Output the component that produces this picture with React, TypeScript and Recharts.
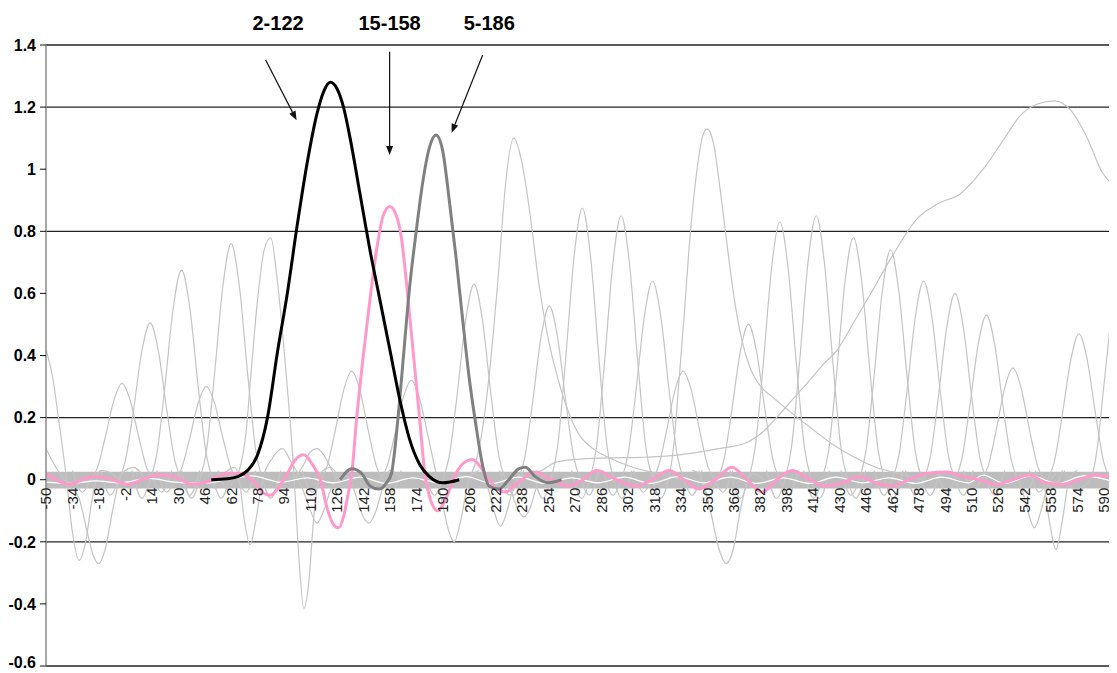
import React from "react";
import { LineChart, Line, XAxis, YAxis, ReferenceLine, ReferenceArea, ReferenceDot } from "recharts";

type P = [number, number][];

const xTicks = [
  -50, -34, -18, -2, 14, 30, 46, 62, 78, 94, 110, 126, 142, 158, 174, 190, 206, 222, 238, 254, 270,
  286, 302, 318, 334, 350, 366, 382, 398, 414, 430, 446, 462, 478, 494, 510, 526, 542, 558, 574, 590,
];
const yTicks = [-0.6, -0.4, -0.2, 0, 0.2, 0.4, 0.6, 0.8, 1, 1.2, 1.4];
const gridValues = [1.4, 1.2, 0.8, 0.2, -0.2, -0.6];

// highlighted series
const black122: P = [
  [50, 0], [60, 0.003], [66, 0.01], [72, 0.03], [78, 0.08], [84, 0.2], [90, 0.41], [96, 0.6], [102, 0.82],
  [108, 1.02], [114, 1.18], [118, 1.25], [122, 1.28], [126, 1.26], [130, 1.2], [134, 1.1], [140, 0.92],
  [146, 0.74], [152, 0.58], [158, 0.42], [164, 0.26], [170, 0.13], [176, 0.05], [182, 0.01], [190, -0.01], [200, 0],
];
const pink158: P = [
  [-50, 0.02], [-44, 0], [-36, -0.015], [-28, 0], [-20, 0.01], [-10, 0], [0, -0.015], [8, 0], [18, 0.015],
  [28, 0.01], [38, -0.015], [46, -0.01], [54, 0.01], [60, 0.02], [66, 0.02], [72, 0.01], [78, -0.02],
  [82, -0.045], [86, -0.05], [90, -0.03], [96, 0.02], [101, 0.065], [106, 0.08], [111, 0.05], [116, 0],
  [120, -0.09], [124, -0.145], [127, -0.155], [130, -0.12], [133, -0.04], [135, 0.02], [138, 0.2], [142, 0.4],
  [146, 0.58], [150, 0.74], [154, 0.85], [158, 0.88], [162, 0.85], [165, 0.78], [168, 0.64], [172, 0.42],
  [176, 0.2], [179, 0.03], [183, -0.07], [187, -0.1], [192, -0.06], [198, 0.02], [203, 0.055], [208, 0.065],
  [213, 0.04], [218, 0], [223, -0.03], [228, -0.04], [233, -0.02], [238, 0], [243, 0.02], [247, 0.025],
  [252, 0.01], [258, -0.005], [266, -0.02], [275, 0], [283, 0.03], [295, 0], [307, -0.02], [317, 0],
  [327, 0.03], [336, 0], [345, -0.03], [355, 0], [365, 0.04], [374, 0], [383.6, -0.04], [392, 0],
  [401.5, 0.03], [412, 0], [422, -0.02], [432, -0.01], [442, 0.01], [452, -0.01], [462, -0.02], [472, 0],
  [482, 0.02], [495, 0.025], [505, 0.01], [515, 0], [525, -0.015], [535, 0], [545, 0.015], [555, -0.01],
  [565, -0.015], [575, 0], [585, 0.015], [598, 0],
];
const gray186: P = [
  [128, 0], [135, 0.035], [141, 0.02], [146, -0.02], [151.5, -0.03], [156, -0.01], [159, 0.02], [163, 0.2],
  [166, 0.38], [170, 0.62], [174, 0.8], [178, 0.96], [182, 1.07], [186, 1.11], [190, 1.06], [194, 0.9],
  [198, 0.72], [202, 0.52], [206, 0.33], [210, 0.18], [214, 0.05], [218, -0.02], [224, -0.03], [230, 0],
  [236, 0.035], [240, 0.04], [246, 0.01], [254, -0.01], [262, 0],
];

// broad curve on the right
const wideCurve: P = [
  [228, 0], [240, 0.01], [250, 0.03], [258, 0.055], [270, 0.065], [290, 0.07], [310, 0.072], [325, 0.076],
  [340, 0.085], [357, 0.1], [374, 0.12], [385, 0.16], [392, 0.2], [402, 0.26], [412, 0.32], [420, 0.37],
  [429, 0.42], [438, 0.5], [448, 0.59], [462, 0.72], [477, 0.84], [490, 0.89], [503, 0.92], [517, 1.0],
  [530, 1.1], [539, 1.17], [550, 1.21], [560, 1.22], [570, 1.19], [580, 1.1], [589, 0.99], [598, 0.94],
];

const whiteRipple: P = [
  [-50, -0.008], [-35, -0.012], [-20, -0.004], [-5, -0.01], [12, 0.004], [28, -0.008], [45, -0.012], [60, 0],
  [75, 0.012], [92, -0.008], [108, 0.006], [124, -0.01], [140, 0.008], [156, -0.012], [172, 0.006],
  [188, -0.01], [204, 0.01], [220, -0.012], [236, 0.008], [252, -0.012], [268, 0.006], [284, -0.01],
  [300, 0.008], [316, -0.012], [332, 0.01], [348, -0.01], [364, 0.008], [380, -0.012], [396, 0.006],
  [412, -0.012], [428, 0.008], [444, -0.01], [460, 0.006], [476, -0.012], [492, 0.008], [508, -0.01],
  [517, 0.015], [530, -0.012], [546, 0.012], [562, -0.012], [578, 0.012], [598, -0.01],
];

// the other light grey series
const grayCurves: P[] = [
  [[-50, 0.42], [-46, 0.33], [-42, 0.18], [-38, 0.02], [-34, -0.17], [-30, -0.26], [-26, -0.2], [-22, -0.06], [-17, 0.03], [-10, 0.02], [-4, -0.01], [4, 0]],
  [[-50, 0.1], [-44, 0.04], [-36, -0.02], [-30, -0.06], [-25, -0.17], [-21, -0.25], [-18, -0.27], [-14, -0.22], [-9, -0.08], [-4, 0.02], [3, 0.04], [10, 0]],
  [[-34, 0.03], [-28, -0.04], [-23, 0], [-19, 0.037], [-14, 0.14], [-9, 0.254], [-4, 0.31], [1, 0.254], [6, 0.14], [11, 0.037], [15, 0], [20, -0.04], [26, 0.03]],
  [[-17, 0.03], [-11, -0.05], [-6, 0], [-2, 0.061], [3, 0.227], [8, 0.414], [13, 0.505], [18, 0.414], [23, 0.227], [28, 0.061], [32, 0], [37, -0.05], [43, 0.03]],
  [[2, 0.03], [8, -0.06], [13, 0], [17, 0.081], [22, 0.304], [27, 0.554], [32, 0.675], [37, 0.554], [42, 0.304], [47, 0.081], [51, 0], [56, -0.06], [62, 0.03]],
  [[17, 0.03], [23, -0.04], [28, 0], [32, 0.036], [37, 0.135], [42, 0.246], [47, 0.3], [52, 0.246], [57, 0.135], [62, 0.036], [66, 0], [71, -0.04], [77, 0.03]],
  [[32, 0.03], [38, -0.06], [43, 0], [47, 0.091], [52, 0.342], [57, 0.623], [62, 0.76], [67, 0.623], [72, 0.342], [77, 0.091], [81, 0], [86, -0.06], [92, 0.03]],
  [[54, 0.03], [60, -0.03], [64, 0], [68, 0.05], [71, 0.15], [74, 0.34], [78, 0.58], [82, 0.74], [86, 0.78], [90, 0.64], [95, 0.36], [100, 0.02], [103, -0.25], [106, -0.415], [109, -0.33], [112, -0.12], [116, 0.02], [122, 0.04], [128, 0]],
  [[58, 0.02], [64, 0.04], [67, 0], [70, -0.13], [73.5, -0.21], [77, -0.13], [81, 0], [87, 0.07], [93, 0.1], [99, 0.05], [105, 0]],
  [[100, 0], [106, 0.05], [110, 0.09], [114, 0.1], [118, 0.08], [124, 0.02], [130, -0.02], [136, 0]],
  [[100, 0.02], [106, -0.04], [110, -0.1], [114, -0.14], [118, -0.1], [123, -0.02], [128, 0.02]],
  [[105, 0.03], [111, -0.04], [116, 0], [120, 0.042], [125, 0.158], [130, 0.287], [135, 0.35], [140, 0.287], [145, 0.158], [150, 0.042], [154, 0], [159, -0.04], [165, 0.03]],
  [[128, 0.02], [134, 0], [138, -0.06], [142, -0.12], [145.5, -0.14], [149, -0.11], [153, -0.04], [158, 0.03], [164, 0.01]],
  [[141, 0.03], [147, -0.03], [152, 0], [156, 0.038], [161, 0.144], [166, 0.262], [171, 0.32], [176, 0.262], [181, 0.144], [186, 0.02], [190, -0.08], [194, -0.17], [197, -0.2], [201, -0.13], [206, 0], [212, 0.03]],
  [[179, 0.03], [185, -0.05], [190, 0], [194, 0.076], [199, 0.284], [204, 0.517], [209, 0.63], [214, 0.517], [219, 0.284], [224, 0.076], [228, 0], [233, -0.05], [239, 0.03]],
  [[208, 0.02], [213, 0.01], [217, -0.02], [221, -0.1], [225, -0.15], [229, -0.1], [233, -0.02], [238, 0.02]],
  [[226, 0.02], [231, -0.03], [235, -0.09], [239, -0.12], [243, -0.09], [247, -0.02], [252, 0.02]],
  [[198, 0.03], [204, 0], [209, 0.04], [214, 0.16], [219, 0.38], [224, 0.68], [228, 0.95], [233, 1.1], [238, 1.02], [243, 0.85], [248, 0.64], [254, 0.45], [260, 0.32], [266, 0.22], [272, 0.15], [281, 0.1], [291, 0.07], [305, 0.04], [320, 0.02], [335, 0]],
  [[224.5, 0.03], [230.5, -0.05], [235.5, 0], [239.5, 0.067], [244.5, 0.252], [249.5, 0.459], [254.5, 0.56], [259.5, 0.459], [264.5, 0.252], [269.5, 0.067], [273.5, 0], [278.5, -0.05], [284.5, 0.03]],
  [[244.5, 0.03], [250.5, -0.06], [255.5, 0], [259.5, 0.105], [264.5, 0.394], [269.5, 0.718], [274.5, 0.875], [279.5, 0.718], [284.5, 0.394], [289.5, 0.105], [293.5, 0], [298.5, -0.06], [304.5, 0.03]],
  [[268, 0.03], [274, -0.06], [279, 0], [283, 0.102], [288, 0.383], [293, 0.697], [298, 0.85], [303, 0.697], [308, 0.383], [313, 0.102], [317, 0], [322, -0.06], [328, 0.03]],
  [[287, 0.03], [293, -0.05], [298, 0], [302, 0.077], [307, 0.288], [312, 0.525], [317, 0.64], [322, 0.525], [327, 0.288], [332, 0.077], [336, 0], [341, -0.05], [347, 0.03]],
  [[305.5, 0.03], [311.5, -0.04], [316.5, 0], [320.5, 0.042], [325.5, 0.158], [330.5, 0.287], [335.5, 0.35], [340.5, 0.287], [345.5, 0.158], [350.5, 0.042], [354.5, 0], [359.5, -0.04], [365.5, 0.03]],
  [[341, 0.03], [345, 0.02], [348, -0.02], [352, -0.1], [357, -0.22], [361.5, -0.27], [366, -0.22], [370, -0.1], [374, -0.01], [378, 0.02], [384, 0]],
  [[316, 0.03], [322, -0.02], [326, 0], [330, 0.12], [333, 0.32], [336, 0.52], [339, 0.74], [343, 0.96], [347, 1.1], [350, 1.13], [354, 1.08], [358, 0.93], [362, 0.76], [366.5, 0.58], [371, 0.45], [376, 0.36], [381, 0.31], [391, 0.26], [400, 0.22], [412, 0.17], [427, 0.11], [440, 0.07], [452, 0.04], [466, 0.02], [480, 0]],
  [[345, 0.03], [351, -0.05], [356, 0], [360, 0.06], [365, 0.225], [370, 0.41], [375, 0.5], [380, 0.41], [385, 0.225], [390, 0.06], [394, 0], [399, -0.05], [405, 0.03]],
  [[364, 0.03], [370, -0.06], [375, 0], [379, 0.1], [384, 0.374], [389, 0.681], [394, 0.83], [399, 0.681], [404, 0.374], [409, 0.1], [413, 0], [418, -0.06], [424, 0.03]],
  [[386, 0.03], [392, -0.06], [397, 0], [401, 0.102], [406, 0.383], [411, 0.697], [416, 0.85], [421, 0.697], [426, 0.383], [431, 0.102], [435, 0], [440, -0.06], [446, 0.03]],
  [[408.5, 0.03], [414.5, -0.06], [419.5, 0], [423.5, 0.094], [428.5, 0.351], [433.5, 0.64], [438.5, 0.78], [443.5, 0.64], [448.5, 0.351], [453.5, 0.094], [457.5, 0], [462.5, -0.06], [468.5, 0.03]],
  [[431, 0.03], [437, -0.05], [442, 0], [446, 0.089], [451, 0.333], [456, 0.607], [461, 0.74], [466, 0.607], [471, 0.333], [476, 0.089], [480, 0], [485, -0.05], [491, 0.03]],
  [[451, 0.03], [457, -0.05], [462, 0], [466, 0.077], [471, 0.288], [476, 0.525], [481, 0.64], [486, 0.525], [491, 0.288], [496, 0.077], [500, 0], [505, -0.05], [511, 0.03]],
  [[470, 0.03], [476, -0.05], [481, 0], [485, 0.072], [490, 0.27], [495, 0.492], [500, 0.6], [505, 0.492], [510, 0.27], [515, 0.072], [519, 0], [524, -0.05], [530, 0.03]],
  [[489, 0.03], [495, -0.04], [500, 0], [504, 0.064], [509, 0.239], [514, 0.435], [519, 0.53], [524, 0.435], [529, 0.239], [534, 0.064], [538, 0], [543, -0.04], [549, 0.03]],
  [[505, 0.03], [511, -0.03], [516, 0], [520, 0.043], [525, 0.162], [530, 0.295], [535, 0.36], [540, 0.295], [545, 0.162], [550, 0.043], [554, 0], [559, -0.03], [565, 0.03]],
  [[536, 0.02], [540, -0.02], [544, -0.1], [548, -0.155], [552, -0.1], [556, -0.02], [561, 0.02]],
  [[546, 0.02], [550, 0.01], [553, 0], [557, -0.13], [561, -0.225], [565, -0.13], [569, 0], [574, 0.03]],
  [[545, 0.03], [551, -0.04], [556, 0], [560, 0.056], [565, 0.212], [570, 0.385], [575, 0.47], [580, 0.385], [585, 0.212], [590, 0.056], [594, 0], [598, -0.04]],
  [[566, 0.03], [572, -0.03], [578, -0.02], [582, 0], [586, 0.1], [590, 0.3], [594, 0.5], [598, 0.69]],
];

const annotations = [
  { label: "2-122", labelX: 90.4, from: [82.9, 1.352], to: [101.6, 1.158] },
  { label: "15-158", labelX: 157.9, from: [157.9, 1.378], to: [157.9, 1.046] },
  { label: "5-186", labelX: 218.2, from: [214.2, 1.368], to: [195.4, 1.117] },
];
const labelY = 1.472;

const W = 1109;
const H = 665;
const M = { top: 37, right: 0, left: 0, bottom: 6 };
const PLOT_H = H - M.top - M.bottom - 1;
const Y_MIN = -0.6;
const Y_MAX = 1.4;
const ZERO_SHIFT = (PLOT_H * (0 - Y_MIN)) / (Y_MAX - Y_MIN);
const FONT = "'Liberation Sans', Arial, sans-serif";

const rows = (p: P) => p.map(([x, y]) => ({ x, y }));

const XTick = ({ x, y, payload }: any) => {
  const ty = y - ZERO_SHIFT + 8;
  return (
    <text
      x={x}
      y={ty}
      dy="0.36em"
      transform={`rotate(-90, ${x}, ${ty})`}
      textAnchor="end"
      fontSize={15}
      fontFamily={FONT}
      fill="#222"
    >
      {payload.value}
    </text>
  );
};

const YTick = ({ x, y, payload }: any) => {
  // lowest label sits on the page edge; lift it a little so it stays readable
  const yy = payload.value === Y_MIN ? y - 4 : y;
  return (
    <text
      x={x}
      y={yy}
      dy="0.36em"
      textAnchor="end"
      fontSize={16}
      fontWeight="bold"
      fontFamily={FONT}
      fill="#000"
    >
      {String(payload.value)}
    </text>
  );
};

const Arrow = (props: any) => {
  const { x1, y1, x2, y2 } = props;
  const a = Math.atan2(y2 - y1, x2 - x1);
  const len = 9;
  const half = 3.5;
  const bx = x2 - len * Math.cos(a);
  const by = y2 - len * Math.sin(a);
  const pts = `${x2},${y2} ${bx - half * Math.sin(a)},${by + half * Math.cos(a)} ${bx + half * Math.sin(a)},${by - half * Math.cos(a)}`;
  return (
    <g>
      <line x1={x1} y1={y1} x2={bx} y2={by} stroke="#111" strokeWidth={1.2} />
      <polygon points={pts} fill="#111" />
    </g>
  );
};

export default function App() {
  return (
    <div style={{ width: W, height: H, fontFamily: FONT }}>
      <LineChart width={W} height={H} margin={M}>
        <XAxis
          type="number"
          dataKey="x"
          domain={[-50, 598]}
          ticks={xTicks}
          interval={0}
          allowDataOverflow
          axisLine={false}
          tickLine={false}
          tickSize={0}
          tickMargin={0}
          height={1}
          tick={<XTick />}
        />
        <YAxis
          type="number"
          dataKey="y"
          domain={[Y_MIN, Y_MAX]}
          ticks={yTicks}
          interval={0}
          allowDataOverflow
          width={38}
          axisLine={{ stroke: "#888", strokeWidth: 1.5 }}
          tickLine={{ stroke: "#111" }}
          tickSize={6}
          tickMargin={4}
          tick={<YTick />}
        />
        {gridValues.map((v) => (
          <ReferenceLine key={`g${v}`} y={v} stroke="#222" strokeWidth={1.3} />
        ))}
        <ReferenceArea y1={-0.028} y2={0.026} fill="#bdbdbd" fillOpacity={1} stroke="none" />

        {grayCurves.map((c, i) => (
          <Line
            key={`gc${i}`}
            data={rows(c)}
            dataKey="y"
            type="monotone"
            stroke="#c4c4c4"
            strokeWidth={1.2}
            dot={false}
            activeDot={false}
            isAnimationActive={false}
          />
        ))}
        <Line data={rows(wideCurve)} dataKey="y" type="monotone" stroke="#c4c4c4" strokeWidth={1.2} dot={false} activeDot={false} isAnimationActive={false} />
        <Line data={rows(whiteRipple)} dataKey="y" type="monotone" stroke="#ffffff" strokeWidth={1.2} dot={false} activeDot={false} isAnimationActive={false} />
        <Line data={rows(pink158)} dataKey="y" type="monotone" stroke="#ff99cc" strokeWidth={3} dot={false} activeDot={false} isAnimationActive={false} />
        <Line data={rows(gray186)} dataKey="y" type="monotone" stroke="#808080" strokeWidth={3} dot={false} activeDot={false} isAnimationActive={false} />
        <Line data={rows(black122)} dataKey="y" type="monotone" stroke="#000000" strokeWidth={3} dot={false} activeDot={false} isAnimationActive={false} />

        {annotations.map((a) => (
          <ReferenceLine
            key={`a${a.label}`}
            segment={[{ x: a.from[0], y: a.from[1] }, { x: a.to[0], y: a.to[1] }]}
            ifOverflow="visible"
            shape={<Arrow />}
          />
        ))}
        {annotations.map((a) => (
          <ReferenceDot
            key={`l${a.label}`}
            x={a.labelX}
            y={labelY}
            r={0}
            ifOverflow="visible"
            shape={(p: any) => (
              <text
                x={p.cx}
                y={p.cy}
                dy="0.36em"
                textAnchor="middle"
                fontSize={20}
                fontWeight="bold"
                fontFamily={FONT}
                fill="#000"
              >
                {a.label}
              </text>
            )}
          />
        ))}
      </LineChart>
    </div>
  );
}
